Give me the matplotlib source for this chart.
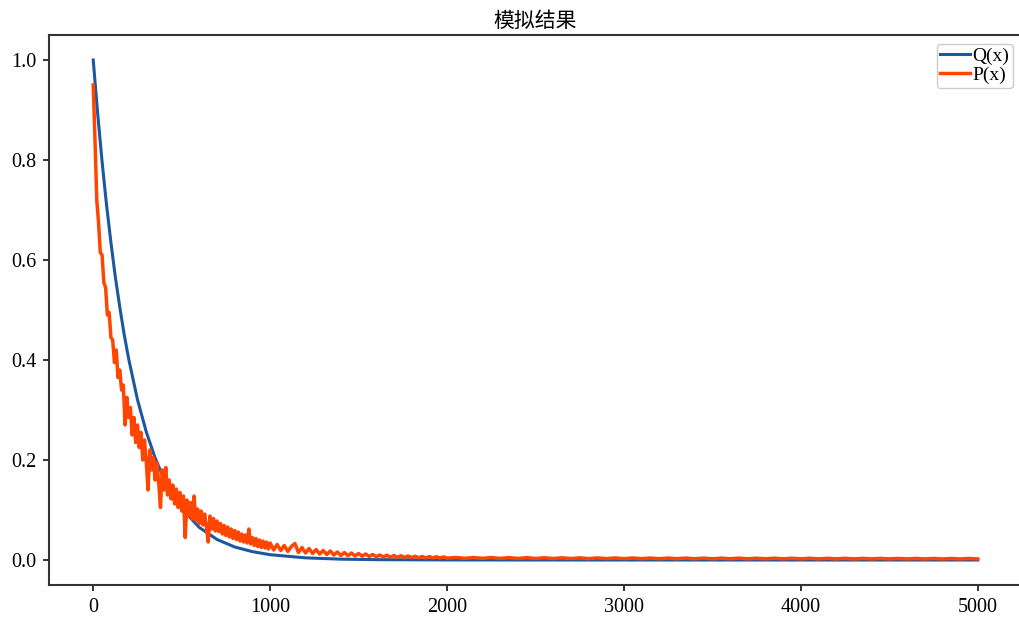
import matplotlib
matplotlib.use("Agg")
import matplotlib.pyplot as plt
import numpy as np

plt.rcParams['font.family'] = ['Liberation Serif', 'Noto Sans CJK SC', 'DejaVu Sans']

# Q(x): smooth curve
q_x = [0, 25, 50, 75, 100, 125, 150, 175, 200, 250, 300, 350, 400, 450, 500,
       600, 700, 800, 900, 1000, 1200, 1400, 1600, 2000, 2500, 3000, 4000, 5000]
q_y = [1.0, 0.893, 0.797, 0.711, 0.635, 0.566, 0.506, 0.451, 0.403, 0.321,
       0.256, 0.204, 0.162, 0.129, 0.103, 0.065, 0.041, 0.026, 0.0167, 0.0106,
       0.0043, 0.0017, 0.0007, 0.0001, 0.0, 0.0, 0.0, 0.0]

# P(x): noisy simulation
p_x = list(range(0, 1001, 10)) + list(range(1020, 2001, 20)) + list(range(2050, 5001, 50))
p_y = [
    0.95, 0.84, 0.72, 0.675, 0.615, 0.61, 0.555, 0.545, 0.49, 0.495,
    0.445, 0.44, 0.395, 0.42, 0.365, 0.38, 0.34, 0.35, 0.27, 0.325,
    0.285, 0.305, 0.25, 0.285, 0.235, 0.27, 0.225, 0.255, 0.20, 0.24,
    0.195, 0.14, 0.22, 0.18, 0.205, 0.16, 0.195, 0.155, 0.105, 0.18,
    0.14, 0.185, 0.13, 0.16, 0.122, 0.15, 0.112, 0.142, 0.105, 0.135,
    0.098, 0.128, 0.045, 0.12, 0.088, 0.115, 0.082, 0.128, 0.078, 0.102,
    0.073, 0.098, 0.07, 0.092, 0.066, 0.036, 0.088, 0.062, 0.083, 0.058,
    0.078, 0.057, 0.073, 0.052, 0.069, 0.049, 0.066, 0.046, 0.062, 0.043,
    0.059, 0.041, 0.056, 0.038, 0.052, 0.036, 0.050, 0.034, 0.062, 0.032,
    0.045, 0.029, 0.043, 0.027, 0.040, 0.025, 0.038, 0.024, 0.036, 0.022,
    0.034,
    0.020, 0.031, 0.019, 0.029, 0.017, 0.027, 0.033, 0.015, 0.025, 0.014,
    0.023, 0.013, 0.021, 0.012, 0.019, 0.011, 0.018, 0.010, 0.016, 0.009,
    0.015, 0.0085, 0.014, 0.008, 0.013, 0.0075, 0.012, 0.007, 0.011, 0.0065,
    0.010, 0.006, 0.0095, 0.0055, 0.009, 0.0052, 0.0085, 0.005, 0.008, 0.0048,
    0.0075, 0.0045, 0.007, 0.0043, 0.0068, 0.0042, 0.0065, 0.004, 0.006, 0.0038,
    0.0050, 0.0034, 0.0049, 0.0033, 0.0048, 0.0032, 0.0047, 0.0031, 0.0046, 0.0030,
    0.0045, 0.0030, 0.0044, 0.0029, 0.0043, 0.0028, 0.0042, 0.0028, 0.0041, 0.0027,
    0.0040, 0.0027, 0.0039, 0.0026, 0.0039, 0.0026, 0.0038, 0.0025, 0.0038, 0.0025,
    0.0037, 0.0025, 0.0037, 0.0024, 0.0036, 0.0024, 0.0036, 0.0024, 0.0035, 0.0023,
    0.0035, 0.0023, 0.0034, 0.0023, 0.0034, 0.0022, 0.0033, 0.0022, 0.0033, 0.0022,
    0.0032, 0.0022, 0.0032, 0.0021, 0.0032, 0.0021, 0.0031, 0.0021, 0.0031, 0.0021,
]

fig = plt.figure(figsize=(10.19, 6.17), dpi=100)
ax = fig.add_axes([49 / 1019, 32 / 617, 973 / 1019, 550 / 617])

ax.plot(q_x, q_y, color='#1b58a0', lw=2.2, label='Q(x)', zorder=2)
ax.plot(p_x, p_y, color='#ff4500', lw=2.5, label='P(x)', zorder=3)

ax.set_title('模拟结果', fontsize=15, family=['Noto Sans CJK SC', 'DejaVu Sans'], pad=6)
ax.set_xticks([0, 1000, 2000, 3000, 4000, 5000])
ax.set_yticks([0.0, 0.2, 0.4, 0.6, 0.8, 1.0])
ax.set_yticklabels(['0.0', '0.2', '0.4', '0.6', '0.8', '1.0'])
ax.tick_params(labelsize=14.5, length=4, width=1.4, color='#333333', pad=5)
for s in ax.spines.values():
    s.set_linewidth(1.5)
    s.set_color('#333333')
ax.spines['right'].set_visible(False)

ax.legend(loc='upper right', fontsize=14, handlelength=1.5, handletextpad=0.15,
          labelspacing=0.05, borderpad=0.2, borderaxespad=0.45, framealpha=1,
          edgecolor='#cccccc')

fig.savefig('out.png', dpi=100)
